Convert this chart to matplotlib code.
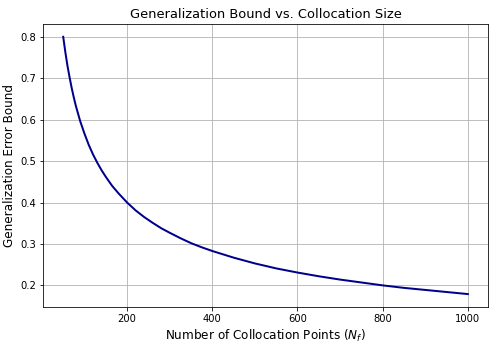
import numpy as np
import matplotlib.pyplot as plt

# points
n_points = [50, 55, 60, 65, 70, 75, 80, 90, 100, 110, 120, 130, 140, 150, 165, 180,
            200, 220, 240, 260, 280, 300, 325, 350, 375, 400, 450, 500, 550, 600,
            650, 700, 750, 800, 850, 900, 950, 1000]
bound = [0.800, 0.763, 0.730, 0.702, 0.676, 0.653, 0.632, 0.596, 0.566, 0.539,
         0.516, 0.496, 0.478, 0.462, 0.440, 0.422, 0.400, 0.381, 0.365, 0.351,
         0.338, 0.327, 0.314, 0.302, 0.292, 0.283, 0.267, 0.253, 0.241, 0.231,
         0.222, 0.214, 0.207, 0.200, 0.194, 0.189, 0.184, 0.179]

fig, ax = plt.subplots(figsize=(494/72, 352/72), dpi=72)
ax.plot(n_points, bound, color="darkblue", linewidth=2)
ax.set_title("Generalization Bound vs. Collocation Size", fontsize=13)
ax.set_xlabel("Number of Collocation Points ($N_f$)", fontsize=12)
ax.set_ylabel("Generalization Error Bound", fontsize=12)
ax.set_xticks([200, 400, 600, 800, 1000])
ax.grid(True, color="#b0b0b0")
ax.tick_params(labelsize=10)
fig.subplots_adjust(left=0.087, right=0.988, top=0.932, bottom=0.128)
fig.savefig("out.png", dpi=72)
